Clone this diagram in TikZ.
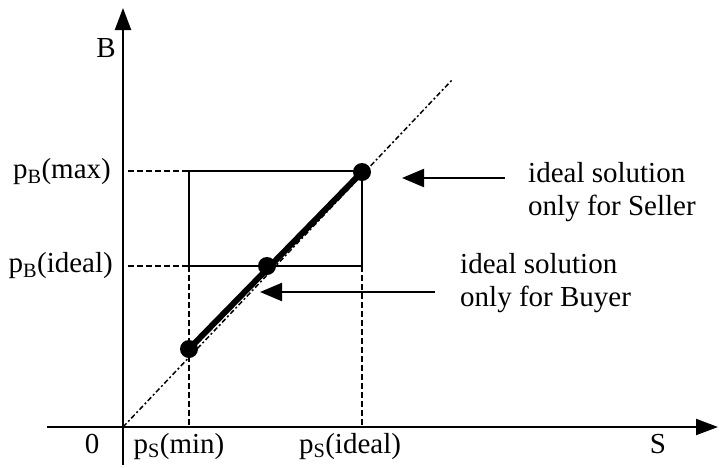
\documentclass[tikz,border=0pt]{standalone}
\usepackage{fontspec}
\setmainfont{Liberation Serif}
\usetikzlibrary{arrows.meta}
\tikzset{
  lbl/.style={font=\fontsize{29}{33}\selectfont, inner sep=0pt},
  dot/.style={circle, fill, inner sep=0pt, minimum size=18pt},
  axis/.style={line width=2.2pt, -{Triangle[length=22pt,width=16pt]}},
  guide/.style={line width=1.3pt, dash pattern=on 6pt off 3pt},
  callout/.style={line width=2.2pt, -{Triangle[length=22pt,width=18pt]}},
}
\begin{document}
\begin{tikzpicture}[x=1pt,y=-1pt]
\useasboundingbox (0,0) rectangle (721,467);
\coordinate (o) at (123,427);
\coordinate (xl) at (47,427);
\coordinate (xr) at (718,427);
\coordinate (yb) at (123,465);
\coordinate (yt) at (123,8);
\coordinate (diag) at (452,80);

\node[dot] (smin) at (189,349) {};
\node[dot] (bideal) at (267,266) {};
\node[dot] (smax) at (362,172) {};

\draw[line width=1.5pt, dash pattern=on 5pt off 2.5pt on 2pt off 2.5pt] (o) -- (diag);
\draw[line width=6pt] (smin.center) -- (smax.center);

\draw[line width=1.6pt] (189,171) rectangle (362,266);
\draw[guide] (128,171) -- (189,171);
\draw[guide] (128,266) -- (189,266);
\draw[guide] (189,266) -- (189,427);
\draw[guide] (362,266) -- (362,427);

\draw[axis] (xl) -- (xr);
\draw[axis] (yb) -- (yt);

\node[lbl] (b) at (106,48) {B};
\node[lbl, anchor=base] (s) at (658,453) {S};
\node[lbl, anchor=base] (zero) at (92,453) {0};
\node[lbl, anchor=east] (pbmax) at (111,172) {p\textsubscript{B}(max)};
\node[lbl, anchor=east] (pbideal) at (113,266) {p\textsubscript{B}(ideal)};
\node[lbl, anchor=base] (psmin) at (179,453) {p\textsubscript{S}(min)};
\node[lbl, anchor=base] (psideal) at (350,453) {p\textsubscript{S}(ideal)};

\node[lbl, anchor=west, align=left] (seller) at (528,192) {ideal solution\\only for Seller};
\node[lbl, anchor=west, align=left] (buyer) at (460,283) {ideal solution\\only for Buyer};

\coordinate (sellerarr) at (505,178);
\coordinate (buyerarr) at (435,292);
\draw[callout] (sellerarr) -- (402,178);
\draw[callout] (buyerarr) -- (260,292);
\end{tikzpicture}
\end{document}
